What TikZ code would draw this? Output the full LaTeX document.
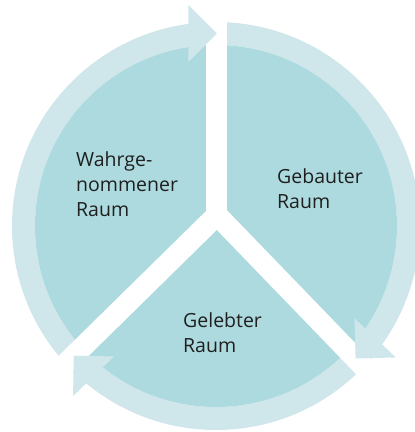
\documentclass[tikz,border=0pt]{standalone}
\usepackage{fontspec}
\setmainfont{Open Sans}
\usetikzlibrary{calc}
\definecolor{discfill}{HTML}{ADDADF}
\definecolor{ringfill}{HTML}{CFE6EB}
\definecolor{labeltext}{HTML}{1F1F1F}
\tikzset{
    disc/.style = {fill=discfill},
    ring/.style = {fill=ringfill, even odd rule},
    gap/.style = {draw=white, line width=21pt},
    head/.style = {fill=ringfill},
    raum/.style = {anchor=base west, align=left, inner sep=0pt, text=labeltext, font=\fontsize{19.5}{24.7}\selectfont},
}

\begin{document}
\begin{tikzpicture}[x=1pt,y=1pt]
\path[use as bounding box] (-216,-206) rectangle (199,226);
\coordinate (o) at (0,0);
\coordinate (yc) at (1,11);
% ring and disc
\fill[ring] (o) circle (204) (o) circle (181);
\fill[disc] (o) circle (181);
% white gaps
\draw[gap] (yc) -- ++(90:230);
\draw[gap] (yc) -- ++(-46:240);
\draw[gap] (yc) -- ++(-135.5:240);
% arrow heads
\coordinate (tipT) at ($(yc)+(90:181.5)$);
\coordinate (tipR) at ($(yc)+(-46:199.5)$);
\coordinate (tipL) at ($(yc)+(-135.5:200.8)$);
\fill[head, shift={(tipT)}, rotate=0] (0,0) -- (-28.5,28.5) -- (-28.5,-28.5) -- cycle;
\fill[head, shift={(tipR)}, rotate=-133.5] (0,0) -- (-28.5,28.5) -- (-28.5,-28.5) -- cycle;
\fill[head, shift={(tipL)}, rotate=134] (0,0) -- (-28.5,28.5) -- (-28.5,-28.5) -- cycle;
% labels (base = last line)
\node[raum] (wahr) at (-140,9.9) {Wahrge-\\nommener\\Raum};
\node[raum] (gebaut) at (61,18) {Gebauter\\Raum};
\node[raum] (gelebt) at (-33,-126) {Gelebter\\Raum};
\end{tikzpicture}
\end{document}
